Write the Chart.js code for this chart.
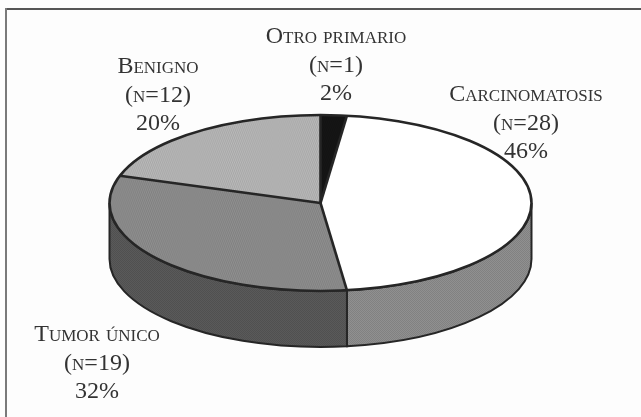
<!DOCTYPE html>
<html>
<head>
<meta charset="utf-8">
<style>
    html, body { margin: 0; padding: 0; background: #fdfdfd; }
    #wrap { position: relative; width: 641px; height: 417px; }
    /* the reference is a soft scan */
    canvas { filter: blur(0.55px); }
</style>
<script src="https://cdn.jsdelivr.net/npm/chart.js@4"></script>
</head>
<body>
<div id="wrap"><canvas id="chart"></canvas></div>
<script>
const categories = ['Otro primario', 'Carcinomatosis', 'Tumor único', 'Benigno'];
const percents = [2, 46, 32, 20];
const nLabels = ['(n=1)', '(n=28)', '(n=19)', '(n=12)'];
const percentLabels = ['2%', '46%', '32%', '20%'];

const topColors = ['#161616', '#ffffff', '#909090', '#bababa'];
const sideColors = ['#161616', '#909090', '#5a5a5a', '#bababa'];
const labelSpots = [[336, 37], [526, 95], [97, 335], [158, 67]];

// where the flattened pie sits on the page
const pie = { x: 320.5, y: 203, rx: 211, ry: 88, depth: 56 };
const lineColor = '#262626';
const textColor = '#333333';

function dotted(color) {
    const c = document.createElement('canvas');
    c.width = 2;
    c.height = 2;
    const g = c.getContext('2d');
    g.fillStyle = color;
    g.fillRect(0, 0, 2, 2);
    g.fillStyle = 'rgba(0,0,0,0.1)';
    g.fillRect(0, 0, 1, 1);
    g.fillRect(1, 1, 1, 1);
    return g.createPattern(c, 'repeat');
}

const flatPie = {
    id: 'flatPie',
    beforeDatasetsDraw(chart) {
        const ctx = chart.ctx;
        const arcs = chart.getDatasetMeta(0).data;

        // side wall, only the part of each slice that faces the viewer
        arcs.forEach((arc, i) => {
            const a0 = Math.max(arc.startAngle, 0);
            const a1 = Math.min(arc.endAngle, Math.PI);
            if (a1 <= a0) return;
            ctx.beginPath();
            ctx.ellipse(pie.x, pie.y, pie.rx, pie.ry, 0, a0, a1);
            ctx.ellipse(pie.x, pie.y + pie.depth, pie.rx, pie.ry, 0, a1, a0, true);
            ctx.closePath();
            ctx.fillStyle = dotted(sideColors[i]);
            ctx.fill();
            ctx.lineWidth = 2;
            ctx.strokeStyle = lineColor;
            ctx.stroke();
        });

        const first = arcs[0];
        ctx.save();
        ctx.translate(pie.x, pie.y);
        ctx.scale(pie.rx / first.outerRadius, pie.ry / first.outerRadius);
        ctx.translate(-first.x, -first.y);
    },
    afterDatasetsDraw(chart) {
        const ctx = chart.ctx;
        ctx.restore();

        // outline redrawn unsquashed so the line weight stays even
        ctx.strokeStyle = lineColor;
        ctx.lineWidth = 2.6;
        ctx.beginPath();
        ctx.ellipse(pie.x, pie.y, pie.rx, pie.ry, 0, 0, Math.PI * 2);
        ctx.stroke();
        chart.getDatasetMeta(0).data.forEach(arc => {
            ctx.beginPath();
            ctx.moveTo(pie.x, pie.y);
            ctx.lineTo(pie.x + Math.cos(arc.startAngle) * pie.rx, pie.y + Math.sin(arc.startAngle) * pie.ry);
            ctx.stroke();
        });

        // page frame: only top and left survive in the scan
        ctx.fillStyle = '#555555';
        ctx.fillRect(5, 8, 636, 2);
        ctx.fillStyle = '#7a7a7a';
        ctx.fillRect(5, 8, 2, 409);

        ctx.fillStyle = textColor;
        ctx.textAlign = 'center';
        ctx.textBaseline = 'middle';
        categories.forEach((name, i) => {
            const [x, y] = labelSpots[i];
            ctx.font = 'small-caps 24px "Liberation Serif"';
            ctx.fillText(name, x, y);
            ctx.fillText(nLabels[i], x, y + 29);
            ctx.font = '24px "Liberation Serif"';
            ctx.fillText(percentLabels[i], x, y + 57);
        });
    }
};

new Chart(document.getElementById('chart'), {
    type: 'pie',
    data: {
        labels: categories,
        datasets: [{
            data: percents,
            backgroundColor: topColors.map(c => c === '#ffffff' ? c : dotted(c)),
            borderWidth: 0
        }]
    },
    options: {
        responsive: true,
        maintainAspectRatio: false,
        animation: false,
        plugins: {
            legend: { display: false },
            tooltip: { enabled: false }
        }
    },
    plugins: [flatPie]
});
</script>
</body>
</html>
